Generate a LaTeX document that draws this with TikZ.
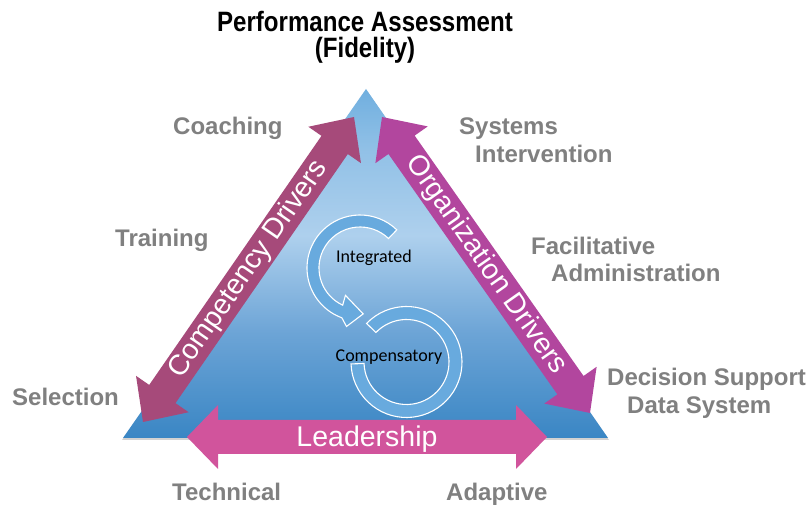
\documentclass[tikz,border=0pt]{standalone}
\usepackage{fontspec}
\setmainfont{Liberation Sans}
\newfontfamily\swirlfont{Carlito}
\newfontfamily\titlefont[FakeStretch=0.86]{Liberation Sans}
\usetikzlibrary{calc}
\definecolor{compcol}{RGB}{166,74,122}
\definecolor{orgcol}{RGB}{178,70,158}
\definecolor{leadcol}{RGB}{209,84,156}
\definecolor{labelgray}{RGB}{128,128,128}
\definecolor{tritop}{RGB}{112,175,223}
\definecolor{trimid}{RGB}{174,208,237}
\definecolor{trilow}{RGB}{108,164,214}
\definecolor{tribot}{RGB}{58,134,196}
\definecolor{swirlcol}{RGB}{104,170,222}
\pgfdeclareverticalshading{trishade}{100bp}{color(0bp)=(tribot); color(25bp)=(tribot); color(40bp)=(trilow); color(54bp)=(trimid); color(66bp)=(trimid!55!tritop); color(75bp)=(tritop); color(100bp)=(tritop)}
% #1 start, #2 end, #3 shaft half width, #4 head half width, #5 head length, #6 style
\newcommand\dblarrow[6]{%
  \coordinate (#1-a) at ($(#1)!#5!(#2)$);
  \coordinate (#2-a) at ($(#2)!#5!(#1)$);
  \fill[#6] (#1) -- ($(#1-a)!#4!90:(#2)$) -- ($(#1-a)!#3!90:(#2)$)
    -- ($(#2-a)!#3!-90:(#1)$) -- ($(#2-a)!#4!-90:(#1)$) -- (#2)
    -- ($(#2-a)!#4!90:(#1)$) -- ($(#2-a)!#3!90:(#1)$)
    -- ($(#1-a)!#3!-90:(#2)$) -- ($(#1-a)!#4!-90:(#2)$) -- cycle;}
\begin{document}
\begin{tikzpicture}[x=1pt,y=1pt,
  lbl/.style={text=labelgray, font=\fontsize{24}{28}\selectfont\bfseries, anchor=base west, inner sep=0},
  titletext/.style={text=black, font=\titlefont\fontsize{28}{30}\selectfont\bfseries, anchor=base, inner sep=0},
  arrowtext/.style={text=white, font=\fontsize{28.5}{32}\selectfont, inner sep=0},
  swirl/.style={fill=swirlcol, draw=white, line width=1.1pt},
  swirltext/.style={font=\swirlfont\fontsize{18}{20}\selectfont, text=black, inner sep=0, anchor=base}]
\useasboundingbox (0,0) rectangle (809,506);
\fill[white] (0,0) rectangle (809,506);

% triangle
\coordinate (A) at (366,417);
\coordinate (B) at (123,68);
\coordinate (C) at (608,68);
\fill[gray!35] ([shift={(1,-2)}]A) -- ([shift={(-1,-2)}]B) -- ([shift={(1,-2)}]C) -- cycle;
\shade[shading=trishade] (A) -- (B) -- (C) -- cycle;

% swirls
\coordinate (C1) at (360,238);
\coordinate (C2) at (406.5,144);
\path[swirl] ($(C2)+(136:55.5)$) arc[start angle=136, end angle=-178, radius=55.5]
  -- ($(C2)+(-178:42.5)$) arc[start angle=-178, end angle=136, radius=42.5] -- cycle;
\path[swirl] ($(C1)+(46:53)$) arc[start angle=46, end angle=250, radius=53]
  -- ($(C1)+(257:60)$) -- ($(C1)+(274:46)$) -- ($(C1)+(242:31)$)
  -- ($(C1)+(245:41)$) arc[start angle=245, end angle=46, radius=41] -- cycle;
\node[swirltext] (integ) at (374,243) {Integrated};
\node[swirltext] (comp) at (389,144) {Compensatory};

% driver arrows
\coordinate (L1) at (143,84);
\coordinate (L2) at (354,389);
\coordinate (R1) at (382,389);
\coordinate (R2) at (590,93);
\coordinate (T1) at (187,69);
\coordinate (T2) at (547,69);
\dblarrow{L1}{L2}{16pt}{32pt}{34pt}{compcol}
\dblarrow{R1}{R2}{16pt}{32pt}{34pt}{orgcol}
\dblarrow{T1}{T2}{17pt}{32pt}{31pt}{leadcol}
\path (L1) -- node[arrowtext, sloped] (comptext) {Competency Drivers} (L2);
\path (R1) -- node[arrowtext, sloped] (orgtext) {Organization Drivers} (R2);
\path (T1) -- node[arrowtext, yshift=-2] (leadtext) {Leadership} (T2);

% title
\node[titletext] (title1) at (365,474) {Performance Assessment};
\node[titletext] (title2) at (365,448) {(Fidelity)};

% labels
\node[lbl] (coach) at (173,371) {Coaching};
\node[lbl] (train) at (115,259) {Training};
\node[lbl] (select) at (12,100) {Selection};
\node[lbl] (sys1) at (459,371) {Systems};
\node[lbl] (sys2) at (475,343) {Intervention};
\node[lbl] (fac1) at (531,251) {Facilitative};
\node[lbl] (fac2) at (551,224) {Administration};
\node[lbl] (dec1) at (607,120) {Decision Support};
\node[lbl] (dec2) at (627,92) {Data System};
\node[lbl] (tech) at (172,5) {Technical};
\node[lbl] (adapt) at (446,5) {Adaptive};
\end{tikzpicture}
\end{document}
